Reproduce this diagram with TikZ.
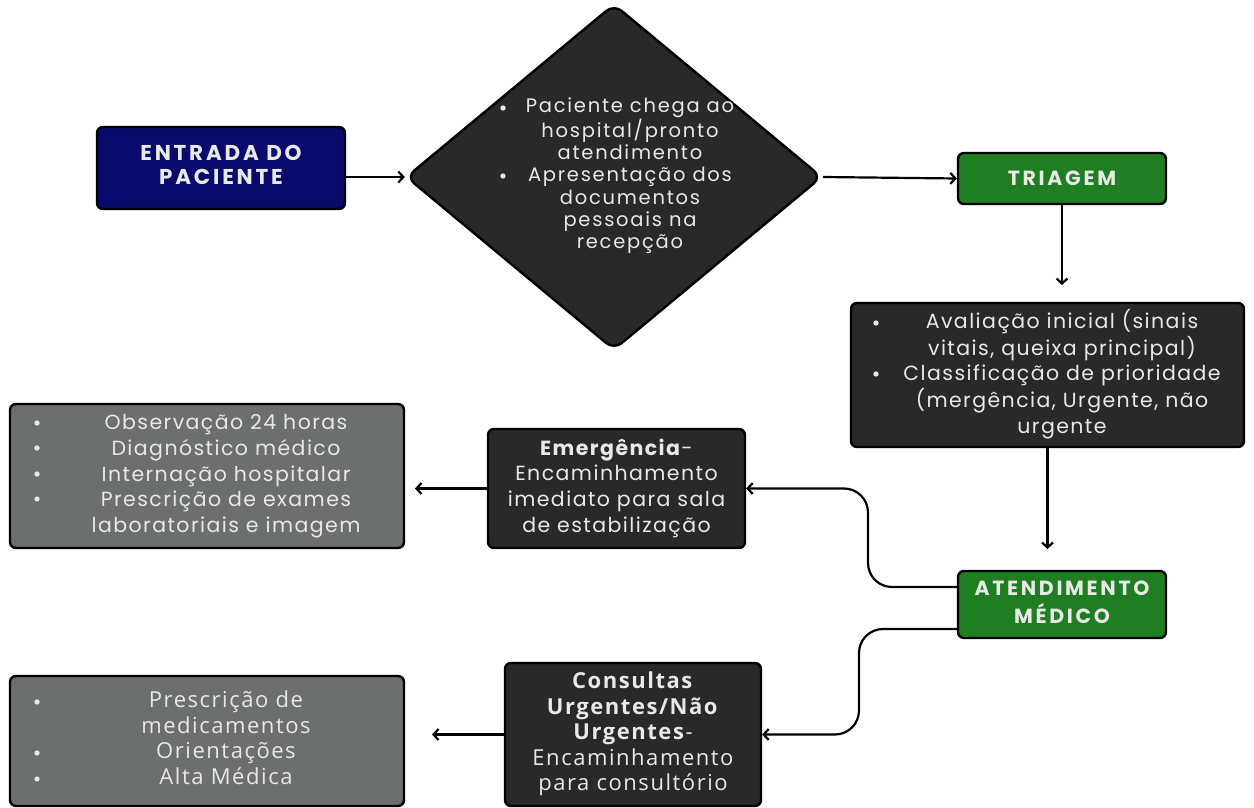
\documentclass[tikz,border=0pt]{standalone}
\usepackage{fontspec}
\usetikzlibrary{arrows.meta,shapes.geometric}
\newfontfamily\upf[LetterSpace=7]{Poppins}
\newfontfamily\dmf[LetterSpace=9]{Poppins}
\newfontfamily\ttlf[LetterSpace=13]{Poppins}
\newfontfamily\lowf[LetterSpace=7]{Open Sans}
\definecolor{navyc}{RGB}{10,10,108}
\definecolor{greenc}{RGB}{31,125,34}
\definecolor{darkc}{RGB}{40,41,40}
\definecolor{grayc}{RGB}{107,111,112}
\definecolor{txtc}{RGB}{232,232,228}
\newcommand{\stk}[1]{\begin{tabular}{@{}c@{}}#1\end{tabular}}
\tikzset{
  basebox/.style={draw=black, line width=2.4pt, rounded corners=6pt, inner sep=0pt, text=txtc, align=center},
  navybox/.style={basebox, fill=navyc, font=\ttlf\bfseries\fontsize{21.5}{24}\selectfont},
  greenbox/.style={basebox, fill=greenc, font=\ttlf\bfseries\fontsize{20.5}{25}\selectfont},
  darkbox/.style={basebox, fill=darkc, font=\upf\fontsize{20.5}{25.6}\selectfont},
  graybox/.style={basebox, fill=grayc, font=\upf\fontsize{20.5}{25.6}\selectfont},
  lowdark/.style={basebox, fill=darkc, font=\lowf\fontsize{22}{25.5}\selectfont},
  lowgray/.style={basebox, fill=grayc, font=\lowf\fontsize{22}{25.5}\selectfont},
  diam/.style={diamond, draw=black, line width=2.4pt, rounded corners=10pt, fill=darkc, inner sep=0pt},
  dtext/.style={text=txtc, inner sep=0pt, align=center, font=\dmf\fontsize{19.5}{22.3}\selectfont},
  arr/.style={draw=black, line width=2.2pt, -{Straight Barb[length=5pt,width=11pt]}},
  bul/.style={fill=txtc}
}
\begin{document}
\begin{tikzpicture}[x=1pt,y=-1pt]
\useasboundingbox (0,0) rectangle (1254,808);
% nodes
\node[navybox, minimum width=248pt, minimum height=82pt] (entrada) at (221,168) {\stk{ENTRADA DO\\PACIENTE}};
\node[diam, minimum width=416pt, minimum height=346pt] (decisao) at (614,177) {};
\node[dtext] (dtxt) at (630,176) {\stk{Paciente chega ao\\hospital/pronto\\atendimento\\Apresentação dos\\documentos\\pessoais na\\recepção}};
\node[greenbox, minimum width=208pt, minimum height=51pt] (triagem) at (1062,178.5) {TRIAGEM};
\node[darkbox, minimum width=393pt, minimum height=144pt] (triagemdet) at (1047.5,375) {\hspace*{29pt}\stk{Avaliação inicial (sinais\\vitais, queixa principal)\\Classificação de prioridade\\(mergência, Urgente, não\\urgente}};
\node[greenbox, minimum width=208pt, minimum height=67pt] (atend) at (1062,604.5) {\stk{ATENDIMENTO\\MÉDICO}};
\node[darkbox, minimum width=257pt, minimum height=119pt] (emerg) at (616.5,488.5) {\stk{\textbf{Emergência}-\\Encaminhamento\\imediato para sala\\de estabilização}};
\node[graybox, minimum width=394pt, minimum height=144pt] (gray1) at (207,476) {\hspace*{38pt}\stk{Observação 24 horas\\Diagnóstico médico\\Internação hospitalar\\Prescrição de exames\\laboratoriais e imagem}};
\node[lowdark, minimum width=256pt, minimum height=143pt] (consult) at (633,734.5) {\stk{\textbf{Consultas}\\\textbf{Urgentes/Não}\\\textbf{Urgentes}-\\Encaminhamento\\para consultório}};
\node[lowgray, minimum width=394pt, minimum height=130pt] (gray2) at (207,741) {\hspace*{38pt}\stk{Prescrição de\\medicamentos\\Orientações\\Alta Médica}};
% bullets
\fill[bul] (503,108) circle (2.7pt);
\fill[bul] (503,176) circle (2.7pt);
\fill[bul] (876,323) circle (2.7pt);
\fill[bul] (876,374) circle (2.7pt);
\foreach \yy in {423,448,474,499} {\fill[bul] (37,\yy) circle (2.7pt);}
\foreach \yy in {702,753,779} {\fill[bul] (37,\yy) circle (2.7pt);}
% free ends
\coordinate (t1) at (1062,285);
\coordinate (t2) at (1047.5,549);
\coordinate (g1) at (415,488.5);
\coordinate (g2) at (432,734.5);
% connectors
\draw[arr] (entrada.east |- decisao.west) -- (decisao.west);
\draw[arr] (decisao.east) -- (triagem.west);
\draw[arr] (triagem.south) -- (t1);
\draw[arr] (triagemdet.south) -- (t2);
\draw[arr, rounded corners=24pt] ([yshift=17.5pt]atend.west) -- (868,587) |- (emerg.east);
\draw[arr, rounded corners=24pt] ([yshift=-24.5pt]atend.west) -- (859,629) |- (consult.east);
\draw[arr] (emerg.west) -- (g1);
\draw[arr] (consult.west) -- (g2);
\end{tikzpicture}
\end{document}
